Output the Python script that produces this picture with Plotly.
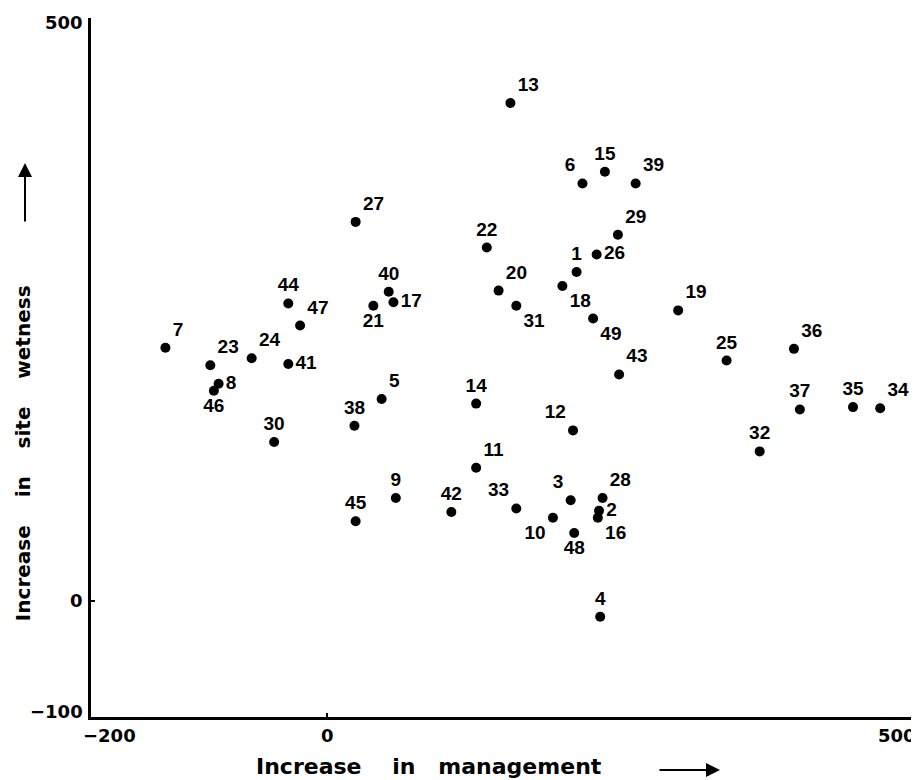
import plotly.graph_objects as go

# ---- data ----
site_ids = [str(i) for i in range(1, 50)]
management = [211, 230, 206, 231, 46, 216, -137, -92, 58, 191,
              126, 208, 155, 126, 235, 229, 56, 199, 297, 145,
              39, 135, -99, -64, 338, 228, 24, 233, 246, -45,
              160, 366, 160, 468, 445, 395, 400, 23, 261, 52,
              -33, 105, 247, -33, 24, -96, -23, 209, 225]
wetness = [282, 77, 86, -14, 173, 358, 217, 186, 88, 71,
           114, 146, 427, 169, 368, 71, 256, 270, 249, 266,
           253, 303, 202, 208, 206, 297, 325, 88, 314, 136,
           253, 128, 79, 165, 166, 216, 164, 150, 358, 265,
           203, 76, 194, 255, 68, 180, 236, 58, 242]

x_tick_values = [-200, 0, 500]
x_tick_labels = ["\u2212200", "0", "500"]
y_tick_values = [-100, 0, 500]
y_tick_labels = ["\u2212100", "0", "500"]

x_title = "Increase\u00a0\u00a0\u00a0\u00a0in\u00a0\u00a0\u00a0management"
y_title = "Increase\u00a0\u00a0\u00a0\u00a0in\u00a0\u00a0\u00a0\u00a0site\u00a0\u00a0\u00a0\u00a0wetness"

# ---- label placement (style) ----
label_pos = ["top center", "middle right", "top left", "top center", "top right",
             "top left", "top right", "middle right", "top center", "bottom left",
             "top right", "top left", "top right", "top center", "top center",
             "bottom right", "middle right", "bottom right", "top right", "top right",
             "bottom center", "top center", "top right", "top right", "top center",
             "middle right", "top right", "top right", "top right", "top center",
             "bottom right", "top center", "top left", "top right", "top center",
             "top right", "top center", "top center", "top right", "top center",
             "middle right", "top center", "top right", "top center", "top center",
             "bottom center", "top right", "bottom center", "bottom right"]

fig = go.Figure()
fig.add_trace(go.Scatter(
    x=management, y=wetness, mode="markers+text",
    text=site_ids, textposition=label_pos,
    marker=dict(size=10, color="black"),
    textfont=dict(family="Liberation Sans, Arial, sans-serif", size=19,
                  color="black", weight="bold"),
    showlegend=False, cliponaxis=False,
))

title_font = dict(family="DejaVu Sans, sans-serif", size=22, color="black", weight="bold")
tick_font = dict(family="DejaVu Sans, sans-serif", size=18, color="black", weight="bold")

# the page body adds an 8px margin, so the figure is offset by 8px in the window
fig.update_layout(
    width=911, height=772,
    margin=dict(l=83, r=1, t=10, b=63, pad=0),
    paper_bgcolor="white", plot_bgcolor="white",
    xaxis=dict(range=[-200, 500], showgrid=False, zeroline=False,
               showline=True, linewidth=3, linecolor="black",
               ticks="inside", ticklen=4, tickwidth=2, tickcolor="black",
               tickvals=x_tick_values, showticklabels=False),
    yaxis=dict(range=[-100, 500], showgrid=False, zeroline=False,
               showline=True, linewidth=3, linecolor="black",
               ticks="inside", ticklen=4, tickwidth=2, tickcolor="black",
               tickvals=y_tick_values, showticklabels=False),
)

# x tick labels
anchors = ["left", "center", "right"]
shifts = [-10, 0, 0]
for v, t, a, s in zip(x_tick_values, x_tick_labels, anchors, shifts):
    fig.add_annotation(x=v, y=0, xref="x", yref="paper", text=t, showarrow=False,
                       xanchor=a, yanchor="top", xshift=s, yshift=-6, font=tick_font)

# y tick labels
yshifts = [6, 0, -4]
for v, t, s in zip(y_tick_values, y_tick_labels, yshifts):
    fig.add_annotation(x=0, y=v, xref="paper", yref="y", text=t, showarrow=False,
                       xanchor="right", yanchor="middle", xshift=-6, yshift=s,
                       font=tick_font)

# axis titles
fig.add_annotation(x=0.409, y=-0.092, xref="paper", yref="paper", text=x_title,
                   showarrow=False, xanchor="center", yanchor="bottom", font=title_font)
fig.add_annotation(x=-0.083, y=0.378, xref="paper", yref="paper", text=y_title,
                   showarrow=False, textangle=-90, xanchor="center", yanchor="middle",
                   font=dict(family="DejaVu Sans, sans-serif", size=20, color="black",
                             weight="bold"))

# arrows
fig.add_annotation(x=0.7606, y=-0.0758, xref="paper", yref="paper", text="",
                   showarrow=True, ax=-62, ay=0, arrowhead=2, arrowsize=1.4,
                   arrowwidth=2, arrowcolor="black")
fig.add_annotation(x=-0.0798, y=0.7926, xref="paper", yref="paper", text="",
                   showarrow=True, ax=0, ay=60, arrowhead=2, arrowsize=1.4,
                   arrowwidth=2, arrowcolor="black")

fig.write_html("out.html")
